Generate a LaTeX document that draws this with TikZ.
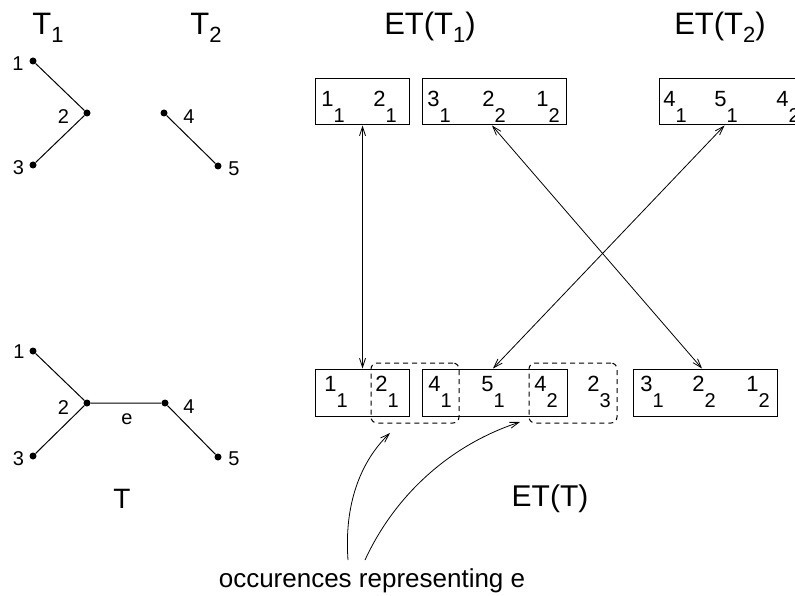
\documentclass[tikz,border=0pt]{standalone}
\usepackage{fontspec}
\setmainfont{Liberation Sans}
\usetikzlibrary{arrows.meta}
\newcommand{\fsz}[1]{\fontsize{#1bp}{#1bp}\selectfont}
\newcommand{\bx}[2]{\fsz{22}#1\raisebox{-16bp}{\fsz{20}#2}}
\newcommand{\ttl}[2]{\fsz{31}#1\raisebox{-8bp}{\fsz{22}#2}}
\begin{document}
\begin{tikzpicture}[x=1bp,y=-1bp,
  dot/.style={circle,fill=black,inner sep=0pt,minimum size=7bp},
  lbl/.style={font=\fsz{20},inner sep=0pt},
  ebox/.style={draw,line width=1bp,inner sep=0pt},
  dbox/.style={draw,line width=1bp,dash pattern=on 5bp off 4bp,rounded corners=6bp,inner sep=0pt,minimum width=88bp,minimum height=60bp},
  arr/.style={line width=0.8bp,{Straight Barb[length=9bp,width=6bp]}-{Straight Barb[length=9bp,width=6bp]}},
  carr/.style={line width=0.8bp,-{Straight Barb[length=9bp,width=6bp]}},
  edge/.style={line width=1bp},
  txt/.style={anchor=base,inner sep=0pt}]
\useasboundingbox (0,0) rectangle (795,596);
\clip (0,0) rectangle (795,596);
\fill[white] (0,0) rectangle (795,596);

% titles
\node[txt] (tT1) at (48,35) {\ttl{T}{1}};
\node[txt] (tT2) at (206,35) {\ttl{T}{2}};
\node[txt] (tE1) at (430,35) {\ttl{ET(T}{1})};
\node[txt] (tE2) at (720,35) {\ttl{ET(T}{2})};
\node[txt] (tT) at (122,508) {\fsz{28}T};
\node[txt] (tET) at (550,506) {\fsz{30}ET(T)};

% tree T1
\node[dot] (a1) at (33,61) {};
\node[dot] (a2) at (87,113) {};
\node[dot] (a3) at (33,165) {};
\node[lbl] (la1) at (18,63.5) {1};
\node[lbl] (la2) at (63.5,117) {2};
\node[lbl] (la3) at (18.5,168) {3};
\draw[edge] (a1) -- (a2) -- (a3);
% tree T2
\node[dot] (b4) at (164,113) {};
\node[dot] (b5) at (218,166) {};
\node[lbl] (lb4) at (189,117) {4};
\node[lbl] (lb5) at (234,169) {5};
\draw[edge] (b4) -- (b5);

% tree T
\node[dot] (c1) at (33,351) {};
\node[dot] (c2) at (87,403) {};
\node[dot] (c3) at (33,456) {};
\node[dot] (c4) at (165,403) {};
\node[dot] (c5) at (218,457) {};
\node[lbl] (lc1) at (19,352) {1};
\node[lbl] (lc2) at (63.5,408) {2};
\node[lbl] (lc3) at (18.5,459) {3};
\node[lbl] (lc4) at (189,407) {4};
\node[lbl] (lc5) at (234,459) {5};
\node[lbl] (le) at (127,419) {e};
\draw[edge] (c1) -- (c2) -- (c3);
\draw[edge] (c2) -- (c4) -- (c5);

% top boxes
\node[ebox,minimum width=94bp,minimum height=46bp] (u1) at (362,102) {};
\node[ebox,minimum width=144bp,minimum height=46bp] (u2) at (494,102) {};
\node[ebox,minimum width=150bp,minimum height=46bp] (u3) at (734,102) {};
\node[txt] (u1a) at (333,107) {\bx{1}{1}};
\node[txt] (u1b) at (385,107) {\bx{2}{1}};
\node[txt] (u2a) at (439,107) {\bx{3}{1}};
\node[txt] (u2b) at (494,107) {\bx{2}{2}};
\node[txt] (u2c) at (548,107) {\bx{1}{2}};
\node[txt] (u3a) at (675,107) {\bx{4}{1}};
\node[txt] (u3b) at (726,107) {\bx{5}{1}};
\node[txt] (u3c) at (788,107) {\bx{4}{2}};

% bottom boxes
\node[ebox,minimum width=94bp,minimum height=47bp] (bA) at (362,392.5) {};
\node[ebox,minimum width=145bp,minimum height=47bp] (bB) at (494.5,392.5) {};
\node[ebox,minimum width=144bp,minimum height=47bp] (bC) at (705,392.5) {};
\node[txt] (bA1) at (336,391) {\bx{1}{1}};
\node[txt] (bA2) at (387,391) {\bx{2}{1}};
\node[txt] (bB1) at (440,391) {\bx{4}{1}};
\node[txt] (bB2) at (493,391) {\bx{5}{1}};
\node[txt] (bB3) at (546,391) {\bx{4}{2}};
\node[txt] (bB4) at (599,391) {\bx{2}{3}};
\node[txt] (bC1) at (652,391) {\bx{3}{1}};
\node[txt] (bC2) at (704,391) {\bx{2}{2}};
\node[txt] (bC3) at (758,391) {\bx{1}{2}};

% dashed groups
\node[dbox] (d1) at (415,393) {};
\node[dbox] (d2) at (573,393) {};

% arrows
\draw[arr] ([xshift=48bp]u1.south west) -- ([xshift=48bp]bA.north west);
\draw[arr] ([xshift=-2bp]u2.south) -- ([xshift=-3bp]bC.north);
\draw[arr] ([xshift=66bp]u3.south west) -- ([xshift=-1.5bp]bB.north);

% bottom text and curved arrows
\node[txt] (occ) at (372,587) {\fsz{26}occurences representing e};
\coordinate (s1) at (348,560);
\coordinate (s2) at (365,560);
\coordinate (e1) at (390,433);
\coordinate (e2) at (520,422);
\draw[carr] (s1) .. controls (344,505) and (360,462) .. (e1);
\draw[carr] (s2) .. controls (395,495) and (450,445) .. (e2);
\end{tikzpicture}
\end{document}
